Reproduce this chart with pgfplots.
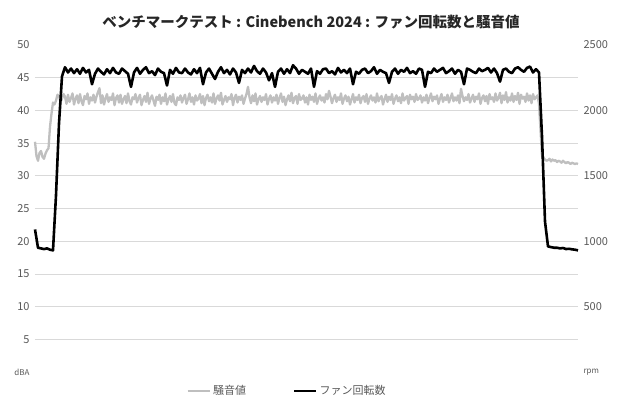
\documentclass[border=0pt]{standalone}
\usepackage{pgfplots}
\pgfplotsset{compat=1.18}
\usepackage{pgfplotstable}
\usepackage{fontspec}
\setmainfont{Noto Sans CJK JP}

\definecolor{gridgray}{HTML}{D9D9D9}
\definecolor{ticktext}{HTML}{595959}
\definecolor{noisegray}{HTML}{BFBFBF}

% noise (dBA): samples every ~1.5 px of the original chart
\pgfplotstableread[row sep=\\]{
y\\
35.2\\ 33.0\\ 32.3\\ 33.5\\ 33.8\\ 32.9\\ 32.6\\ 33.4\\ 33.9\\ 34.2\\ 37.5\\ 39.5\\ 41.2\\ 40.9\\ 41.5\\ 42.4\\ 42.2\\ 41.3\\ 41.8\\ 42.5\\
42.1\\ 41.0\\ 42.4\\ 41.3\\ 41.9\\ 42.6\\ 40.9\\ 41.8\\ 42.3\\ 41.1\\ 42.5\\ 41.4\\ 40.8\\ 42.2\\ 41.7\\ 42.6\\ 41.0\\ 42.0\\ 41.5\\ 42.4\\
41.2\\ 42.1\\ 42.8\\ 43.4\\ 41.1\\ 42.3\\ 40.9\\ 41.8\\ 42.5\\ 41.3\\ 42.0\\ 41.6\\ 42.6\\ 40.8\\ 41.9\\ 42.3\\ 41.2\\ 42.4\\ 41.0\\ 41.7\\
42.2\\ 41.1\\ 42.6\\ 41.4\\ 40.9\\ 42.0\\ 41.7\\ 42.5\\ 41.2\\ 41.9\\ 42.4\\ 40.8\\ 41.6\\ 42.2\\ 41.3\\ 42.7\\ 41.0\\ 41.8\\ 42.3\\ 41.5\\
40.7\\ 42.1\\ 41.6\\ 42.4\\ 41.0\\ 42.0\\ 41.4\\ 42.6\\ 40.9\\ 41.7\\ 42.2\\ 41.3\\ 42.5\\ 41.1\\ 40.8\\ 42.0\\ 41.6\\ 42.3\\ 41.2\\ 41.9\\
42.4\\ 41.0\\ 41.7\\ 42.6\\ 41.3\\ 42.0\\ 40.9\\ 42.3\\ 41.5\\ 41.8\\ 42.5\\ 41.1\\ 42.2\\ 40.8\\ 41.9\\ 42.4\\ 41.4\\ 42.0\\ 41.2\\ 42.6\\
41.0\\ 41.8\\ 42.3\\ 41.5\\ 42.7\\ 40.9\\ 41.6\\ 42.2\\ 41.3\\ 42.0\\ 41.7\\ 42.5\\ 40.8\\ 41.9\\ 42.4\\ 41.2\\ 42.1\\ 41.6\\ 42.3\\ 41.0\\
41.8\\ 42.5\\ 43.6\\ 42.0\\ 41.1\\ 42.3\\ 41.4\\ 42.6\\ 40.9\\ 41.7\\ 42.2\\ 41.3\\ 42.0\\ 41.6\\ 42.5\\ 40.9\\ 41.8\\ 42.3\\ 41.2\\ 42.0\\
41.5\\ 42.4\\ 41.0\\ 41.9\\ 42.6\\ 41.3\\ 42.1\\ 40.8\\ 41.7\\ 42.3\\ 41.4\\ 42.7\\ 41.1\\ 41.9\\ 42.2\\ 41.0\\ 42.5\\ 41.6\\ 41.8\\ 42.3\\
41.2\\ 42.0\\ 40.9\\ 42.4\\ 41.6\\ 42.1\\ 41.3\\ 42.6\\ 41.0\\ 41.8\\ 42.3\\ 41.5\\ 42.0\\ 41.2\\ 42.5\\ 41.7\\ 43.0\\ 42.1\\ 41.1\\ 41.9\\
42.4\\ 41.3\\ 42.0\\ 41.6\\ 42.6\\ 41.0\\ 41.8\\ 42.3\\ 41.4\\ 42.1\\ 40.9\\ 41.7\\ 42.5\\ 41.2\\ 42.0\\ 41.6\\ 42.4\\ 41.1\\ 41.9\\ 42.2\\
41.3\\ 42.5\\ 41.0\\ 41.8\\ 42.3\\ 41.5\\ 42.0\\ 41.2\\ 42.6\\ 41.4\\ 41.9\\ 42.2\\ 40.9\\ 41.7\\ 42.4\\ 41.3\\ 42.1\\ 41.6\\ 42.5\\ 41.0\\
41.8\\ 42.3\\ 41.4\\ 42.0\\ 41.1\\ 42.6\\ 41.5\\ 41.9\\ 42.2\\ 41.0\\ 42.4\\ 41.7\\ 42.1\\ 41.3\\ 42.5\\ 41.6\\ 41.8\\ 42.3\\ 41.2\\ 42.0\\
41.5\\ 42.4\\ 41.1\\ 41.9\\ 42.6\\ 41.4\\ 42.1\\ 41.7\\ 42.3\\ 41.0\\ 41.8\\ 42.5\\ 41.3\\ 42.0\\ 41.6\\ 42.4\\ 41.2\\ 41.9\\ 42.6\\ 41.4\\
42.0\\ 41.5\\ 42.3\\ 41.1\\ 43.3\\ 42.2\\ 41.4\\ 42.0\\ 41.6\\ 42.5\\ 41.2\\ 41.8\\ 42.4\\ 41.3\\ 42.1\\ 41.7\\ 42.6\\ 41.0\\ 41.9\\ 42.3\\
41.4\\ 42.2\\ 41.0\\ 42.5\\ 41.7\\ 42.0\\ 41.3\\ 42.6\\ 41.5\\ 41.9\\ 42.7\\ 41.1\\ 42.3\\ 41.6\\ 42.8\\ 41.2\\ 42.0\\ 41.5\\ 42.6\\ 41.3\\
42.2\\ 41.6\\ 42.7\\ 41.0\\ 42.4\\ 41.8\\ 42.1\\ 41.3\\ 42.6\\ 41.5\\ 42.3\\ 41.1\\ 42.5\\ 41.7\\
42.0\\ 42.3\\ 41.0\\ 37.0\\ 33.0\\ 32.7\\ 32.5\\ 32.3\\ 32.4\\ 32.6\\ 32.2\\ 32.5\\ 32.3\\ 32.4\\ 32.1\\
32.3\\ 32.2\\ 32.0\\ 32.3\\ 32.1\\ 31.9\\ 32.1\\ 32.0\\ 31.8\\ 32.0\\ 31.9\\ 31.8\\ 31.9\\ 31.8\\
}\noisedata

% fan speed (rpm): samples every ~3 px of the original chart
\pgfplotstableread[row sep=\\]{
y\\
1090\\ 950\\ 945\\ 940\\ 945\\ 935\\ 930\\ 1350\\ 1900\\ 2260\\
2330\\ 2290\\ 2320\\ 2285\\ 2315\\ 2280\\ 2325\\ 2290\\ 2310\\ 2200\\ 2280\\ 2320\\ 2295\\ 2275\\ 2315\\ 2285\\ 2325\\ 2290\\ 2280\\ 2320\\
2300\\ 2280\\ 2180\\ 2290\\ 2325\\ 2280\\ 2310\\ 2330\\ 2285\\ 2300\\ 2270\\ 2320\\ 2295\\ 2285\\ 2190\\ 2310\\ 2280\\ 2325\\ 2290\\ 2285\\
2320\\ 2290\\ 2275\\ 2315\\ 2285\\ 2325\\ 2200\\ 2290\\ 2320\\ 2280\\ 2240\\ 2295\\ 2330\\ 2285\\ 2310\\ 2275\\ 2320\\ 2290\\ 2210\\ 2310\\
2285\\ 2320\\ 2290\\ 2340\\ 2300\\ 2280\\ 2320\\ 2290\\ 2230\\ 2285\\ 2180\\ 2295\\ 2320\\ 2280\\ 2315\\ 2285\\ 2345\\ 2320\\ 2280\\ 2310\\
2295\\ 2280\\ 2320\\ 2180\\ 2300\\ 2280\\ 2315\\ 2320\\ 2285\\ 2300\\ 2275\\ 2325\\ 2290\\ 2310\\ 2285\\ 2320\\ 2200\\ 2295\\ 2280\\ 2310\\
2320\\ 2285\\ 2300\\ 2330\\ 2280\\ 2310\\ 2295\\ 2285\\ 2210\\ 2295\\ 2320\\ 2280\\ 2310\\ 2295\\ 2325\\ 2285\\ 2300\\ 2280\\ 2320\\ 2310\\
2180\\ 2295\\ 2285\\ 2320\\ 2295\\ 2310\\ 2325\\ 2285\\ 2300\\ 2320\\ 2280\\ 2310\\ 2295\\ 2200\\ 2320\\ 2310\\ 2295\\ 2285\\ 2320\\ 2300\\
2310\\ 2325\\ 2290\\ 2320\\ 2285\\ 2220\\ 2310\\ 2320\\ 2295\\ 2285\\ 2320\\ 2330\\ 2310\\ 2295\\ 2325\\ 2335\\ 2290\\ 2315\\
2290\\ 1800\\ 1150\\ 960\\ 955\\ 950\\ 950\\ 945\\ 948\\ 940\\ 942\\ 938\\ 935\\ 930\\
}\fandata

\begin{document}
\begin{tikzpicture}[x=1pt,y=1pt]
\useasboundingbox (0,0) rectangle (620,400);
\pgfplotsset{
  every axis/.append style={
    at={(35pt,28pt)}, anchor=south west,
    scale only axis, width=543pt, height=327pt,
    xmin=0, xmax=181, xtick=\empty,
    axis line style={draw=none},
    major tick length=0pt,
    /pgf/number format/assume math mode=true,
    tick label style={font=\fontsize{11}{12}\selectfont, text=ticktext},
    clip=false,
  },
}
\begin{axis}[
  ymin=0, ymax=50,
  ytick={5,10,...,45},
  ymajorgrids, grid style={gridgray, line width=0.8pt},
  extra y ticks={0,50},
  extra y tick labels={{\fontsize{8}{9}\selectfont dBA},50},
  extra y tick style={grid=none},
  yticklabel style={xshift=-2pt},
]
\addplot[noisegray, line width=2.3pt, line join=round] table[x expr=0.5*\coordindex, y=y] {\noisedata};
\end{axis}
\begin{axis}[
  ymin=0, ymax=2500,
  axis y line*=right,
  ytick={0,500,1000,1500,2000,2500},
  yticklabels={{\fontsize{8}{9}\selectfont rpm},500,1000,1500,2000,2500},
  yticklabel style={xshift=2pt},
  legend style={draw=none, fill=none, at={(0.464,-0.058)}, anchor=center,
    font=\fontsize{11}{12}\selectfont, text=ticktext,
    /tikz/every even column/.append style={column sep=45pt}},
  legend columns=2,
  legend image code/.code={\draw[#1] (0pt,0pt) -- (22pt,0pt);},
]
\addlegendimage{noisegray, line width=2.8pt}
\addlegendentry{騒音値}
\addplot[black, line width=2.6pt, line join=round] table[x expr=\coordindex, y=y] {\fandata};
\addlegendentry{ファン回転数}
\end{axis}
\node[font=\bfseries\fontsize{14.5}{16}\selectfont, text=black!85] at (311,378) {ベンチマークテスト : Cinebench 2024 : ファン回転数と騒音値};
\end{tikzpicture}
\end{document}
